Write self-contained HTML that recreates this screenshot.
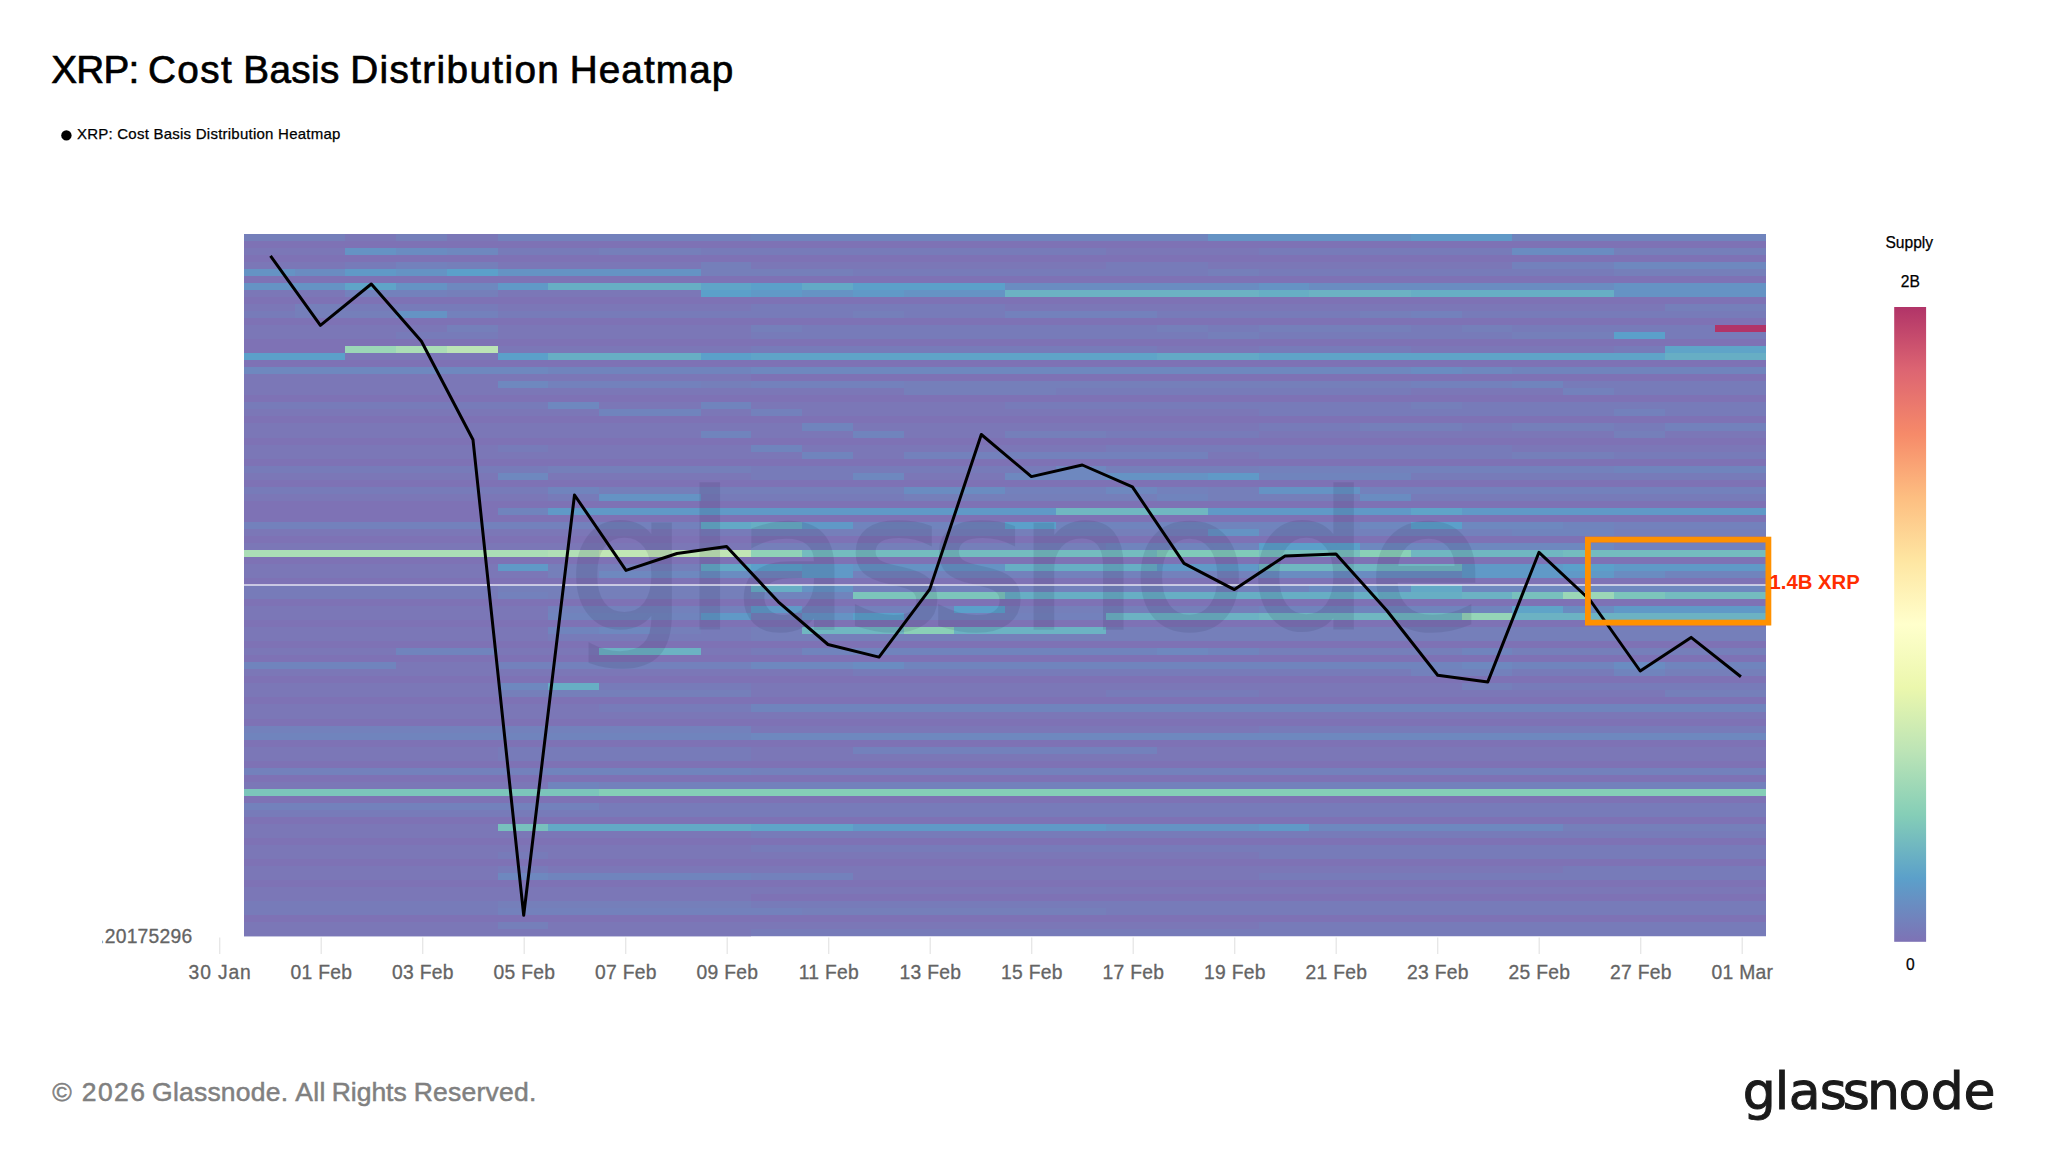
<!DOCTYPE html>
<html><head><meta charset="utf-8"><title>XRP: Cost Basis Distribution Heatmap</title>
<style>
html,body{margin:0;padding:0;background:#fff;}
body{width:2048px;height:1152px;overflow:hidden;position:relative;font-family:"Liberation Sans",sans-serif;}
svg{position:absolute;left:0;top:0;}
text{font-family:"Liberation Sans",sans-serif;}
</style></head><body>
<svg width="2048" height="1152" viewBox="0 0 2048 1152">
<defs><linearGradient id="cb" x1="0" y1="0" x2="0" y2="1"><stop offset="0%" stop-color="#b13468"/><stop offset="10%" stop-color="#dd6572"/><stop offset="20%" stop-color="#f68a69"/><stop offset="30%" stop-color="#fdbe81"/><stop offset="40%" stop-color="#fee6a2"/><stop offset="50%" stop-color="#ffffcc"/><stop offset="60%" stop-color="#ebf7ad"/><stop offset="70%" stop-color="#bce4b6"/><stop offset="80%" stop-color="#85ceb7"/><stop offset="90%" stop-color="#5ba0ca"/><stop offset="100%" stop-color="#7e72b5"/></linearGradient>
<clipPath id="hc"><rect x="244" y="233.8" width="1522" height="702.5"/></clipPath><clipPath id="yc"><rect x="102.3" y="920" width="100" height="30"/></clipPath></defs>
<text id="title" y="83.2" font-size="38.7" fill="#000" stroke="#000" stroke-width="0.7"><tspan x="51.13" letter-spacing="-0.707">XRP:</tspan> <tspan x="147.93" letter-spacing="1.459">Cost</tspan> <tspan x="243.33" letter-spacing="0.335">Basis</tspan> <tspan x="350.13" letter-spacing="1.383">Distribution</tspan> <tspan x="569.63" letter-spacing="1.112">Heatmap</tspan></text>
<circle cx="66.4" cy="135.4" r="5.2" fill="#000"/>
<text id="legend" x="76.9" y="139" font-size="15" letter-spacing="0.24" fill="#000" stroke="#000" stroke-width="0.25">XRP: Cost Basis Distribution Heatmap</text>
<g clip-path="url(#hc)" shape-rendering="crispEdges">
<rect x="244" y="233.8" width="1522" height="7.33" fill="#7084bd"/>
<rect x="244" y="233.8" width="101.47" height="7.33" fill="#757fba"/>
<rect x="345.47" y="233.8" width="50.73" height="7.33" fill="#7b77b7"/>
<rect x="396.2" y="233.8" width="50.73" height="7.33" fill="#757fba"/>
<rect x="446.93" y="233.8" width="50.73" height="7.33" fill="#7b77b7"/>
<rect x="497.67" y="233.8" width="253.67" height="7.33" fill="#7381bc"/>
<rect x="1207.93" y="233.8" width="202.93" height="7.33" fill="#6593c4"/>
<rect x="1410.87" y="233.8" width="101.47" height="7.33" fill="#6099c7"/>
<rect x="244" y="240.83" width="1522" height="7.33" fill="#7e72b5"/>
<rect x="244" y="247.85" width="1522" height="7.33" fill="#777bb9"/>
<rect x="244" y="247.85" width="101.47" height="7.33" fill="#7b77b7"/>
<rect x="345.47" y="247.85" width="50.73" height="7.33" fill="#6593c4"/>
<rect x="396.2" y="247.85" width="50.73" height="7.33" fill="#6a8cc1"/>
<rect x="446.93" y="247.85" width="50.73" height="7.33" fill="#6e88bf"/>
<rect x="599.13" y="247.85" width="101.47" height="7.33" fill="#757fba"/>
<rect x="1106.47" y="247.85" width="152.2" height="7.33" fill="#7b77b7"/>
<rect x="1512.33" y="247.85" width="101.47" height="7.33" fill="#6a8cc1"/>
<rect x="1613.8" y="247.85" width="152.2" height="7.33" fill="#757fba"/>
<rect x="244" y="254.88" width="1522" height="7.33" fill="#7e72b5"/>
<rect x="244" y="261.9" width="1522" height="7.33" fill="#7b77b7"/>
<rect x="345.47" y="261.9" width="50.73" height="7.33" fill="#777bb9"/>
<rect x="396.2" y="261.9" width="50.73" height="7.33" fill="#7381bc"/>
<rect x="446.93" y="261.9" width="50.73" height="7.33" fill="#757fba"/>
<rect x="700.6" y="261.9" width="50.73" height="7.33" fill="#757fba"/>
<rect x="1106.47" y="261.9" width="101.47" height="7.33" fill="#777bb9"/>
<rect x="1512.33" y="261.9" width="101.47" height="7.33" fill="#7381bc"/>
<rect x="1613.8" y="261.9" width="152.2" height="7.33" fill="#6e88bf"/>
<rect x="244" y="268.93" width="1522" height="7.33" fill="#777bb9"/>
<rect x="244" y="268.93" width="50.73" height="7.33" fill="#6593c4"/>
<rect x="294.73" y="268.93" width="50.73" height="7.33" fill="#6a8cc1"/>
<rect x="345.47" y="268.93" width="50.73" height="7.33" fill="#6099c7"/>
<rect x="396.2" y="268.93" width="50.73" height="7.33" fill="#6593c4"/>
<rect x="446.93" y="268.93" width="50.73" height="7.33" fill="#5ba0ca"/>
<rect x="497.67" y="268.93" width="202.93" height="7.33" fill="#6593c4"/>
<rect x="700.6" y="268.93" width="152.2" height="7.33" fill="#757fba"/>
<rect x="1207.93" y="268.93" width="50.73" height="7.33" fill="#757fba"/>
<rect x="1613.8" y="268.93" width="152.2" height="7.33" fill="#757fba"/>
<rect x="244" y="275.95" width="1522" height="7.33" fill="#7e72b5"/>
<rect x="244" y="282.98" width="1522" height="7.33" fill="#6a8cc1"/>
<rect x="244" y="282.98" width="101.47" height="7.33" fill="#6593c4"/>
<rect x="345.47" y="282.98" width="50.73" height="7.33" fill="#5fa4c8"/>
<rect x="396.2" y="282.98" width="50.73" height="7.33" fill="#6593c4"/>
<rect x="446.93" y="282.98" width="50.73" height="7.33" fill="#6e88bf"/>
<rect x="497.67" y="282.98" width="50.73" height="7.33" fill="#6099c7"/>
<rect x="548.4" y="282.98" width="152.2" height="7.33" fill="#67aec4"/>
<rect x="700.6" y="282.98" width="50.73" height="7.33" fill="#5fa4c8"/>
<rect x="751.33" y="282.98" width="50.73" height="7.33" fill="#5ba0ca"/>
<rect x="802.07" y="282.98" width="50.73" height="7.33" fill="#63a9c6"/>
<rect x="852.8" y="282.98" width="152.2" height="7.33" fill="#5ba0ca"/>
<rect x="1258.67" y="282.98" width="50.73" height="7.33" fill="#6593c4"/>
<rect x="1613.8" y="282.98" width="152.2" height="7.33" fill="#6593c4"/>
<rect x="244" y="290" width="1522" height="7.33" fill="#6cb2c3"/>
<rect x="244" y="290" width="101.47" height="7.33" fill="#7b77b7"/>
<rect x="345.47" y="290" width="101.47" height="7.33" fill="#7381bc"/>
<rect x="446.93" y="290" width="50.73" height="7.33" fill="#757fba"/>
<rect x="497.67" y="290" width="202.93" height="7.33" fill="#7b77b7"/>
<rect x="700.6" y="290" width="50.73" height="7.33" fill="#5ba0ca"/>
<rect x="751.33" y="290" width="50.73" height="7.33" fill="#6099c7"/>
<rect x="802.07" y="290" width="50.73" height="7.33" fill="#6593c4"/>
<rect x="852.8" y="290" width="50.73" height="7.33" fill="#6099c7"/>
<rect x="903.53" y="290" width="101.47" height="7.33" fill="#6593c4"/>
<rect x="1258.67" y="290" width="50.73" height="7.33" fill="#67aec4"/>
<rect x="1410.87" y="290" width="202.93" height="7.33" fill="#67aec4"/>
<rect x="1613.8" y="290" width="152.2" height="7.33" fill="#6593c4"/>
<rect x="244" y="297.03" width="1522" height="7.33" fill="#7e72b5"/>
<rect x="244" y="304.05" width="1522" height="7.33" fill="#7b77b7"/>
<rect x="294.73" y="304.05" width="50.73" height="7.33" fill="#757fba"/>
<rect x="345.47" y="304.05" width="152.2" height="7.33" fill="#777bb9"/>
<rect x="751.33" y="304.05" width="253.67" height="7.33" fill="#777bb9"/>
<rect x="1664.53" y="304.05" width="101.47" height="7.33" fill="#757fba"/>
<rect x="244" y="311.08" width="1522" height="7.33" fill="#777bb9"/>
<rect x="294.73" y="311.08" width="101.47" height="7.33" fill="#757fba"/>
<rect x="396.2" y="311.08" width="50.73" height="7.33" fill="#6593c4"/>
<rect x="446.93" y="311.08" width="50.73" height="7.33" fill="#7381bc"/>
<rect x="852.8" y="311.08" width="50.73" height="7.33" fill="#757fba"/>
<rect x="1005" y="311.08" width="152.2" height="7.33" fill="#7381bc"/>
<rect x="1360.13" y="311.08" width="50.73" height="7.33" fill="#757fba"/>
<rect x="1410.87" y="311.08" width="50.73" height="7.33" fill="#7381bc"/>
<rect x="244" y="318.1" width="1522" height="7.33" fill="#7e72b5"/>
<rect x="244" y="325.12" width="1522" height="7.33" fill="#777bb9"/>
<rect x="244" y="325.12" width="202.93" height="7.33" fill="#7b77b7"/>
<rect x="446.93" y="325.12" width="50.73" height="7.33" fill="#757fba"/>
<rect x="497.67" y="325.12" width="253.67" height="7.33" fill="#7b77b7"/>
<rect x="751.33" y="325.12" width="50.73" height="7.33" fill="#757fba"/>
<rect x="1157.2" y="325.12" width="50.73" height="7.33" fill="#757fba"/>
<rect x="1258.67" y="325.12" width="152.2" height="7.33" fill="#757fba"/>
<rect x="1461.6" y="325.12" width="50.73" height="7.33" fill="#757fba"/>
<rect x="1715.27" y="325.12" width="50.73" height="7.33" fill="#b13468"/>
<rect x="244" y="332.15" width="1522" height="7.33" fill="#777bb9"/>
<rect x="244" y="332.15" width="152.2" height="7.33" fill="#7b77b7"/>
<rect x="497.67" y="332.15" width="253.67" height="7.33" fill="#7b77b7"/>
<rect x="1207.93" y="332.15" width="50.73" height="7.33" fill="#757fba"/>
<rect x="1512.33" y="332.15" width="101.47" height="7.33" fill="#757fba"/>
<rect x="1613.8" y="332.15" width="50.73" height="7.33" fill="#5ba0ca"/>
<rect x="244" y="339.18" width="1522" height="7.33" fill="#7e72b5"/>
<rect x="244" y="346.2" width="1522" height="7.33" fill="#777bb9"/>
<rect x="244" y="346.2" width="101.47" height="7.33" fill="#7e72b5"/>
<rect x="345.47" y="346.2" width="50.73" height="7.33" fill="#9bd7b7"/>
<rect x="396.2" y="346.2" width="50.73" height="7.33" fill="#abddb6"/>
<rect x="446.93" y="346.2" width="50.73" height="7.33" fill="#bce4b6"/>
<rect x="497.67" y="346.2" width="253.67" height="7.33" fill="#7b77b7"/>
<rect x="1157.2" y="346.2" width="101.47" height="7.33" fill="#7b77b7"/>
<rect x="1410.87" y="346.2" width="202.93" height="7.33" fill="#7b77b7"/>
<rect x="1664.53" y="346.2" width="101.47" height="7.33" fill="#5fa4c8"/>
<rect x="244" y="353.23" width="1522" height="7.33" fill="#5fa4c8"/>
<rect x="244" y="353.23" width="101.47" height="7.33" fill="#5ba0ca"/>
<rect x="345.47" y="353.23" width="152.2" height="7.33" fill="#7b77b7"/>
<rect x="497.67" y="353.23" width="50.73" height="7.33" fill="#5ba0ca"/>
<rect x="548.4" y="353.23" width="152.2" height="7.33" fill="#67aec4"/>
<rect x="700.6" y="353.23" width="50.73" height="7.33" fill="#5ba0ca"/>
<rect x="1157.2" y="353.23" width="101.47" height="7.33" fill="#63a9c6"/>
<rect x="1664.53" y="353.23" width="101.47" height="7.33" fill="#67aec4"/>
<rect x="244" y="360.25" width="1522" height="7.33" fill="#7e72b5"/>
<rect x="244" y="367.27" width="1522" height="7.33" fill="#6e88bf"/>
<rect x="548.4" y="367.27" width="202.93" height="7.33" fill="#7084bd"/>
<rect x="1410.87" y="367.27" width="50.73" height="7.33" fill="#6a8cc1"/>
<rect x="1512.33" y="367.27" width="253.67" height="7.33" fill="#7084bd"/>
<rect x="244" y="374.3" width="1522" height="7.33" fill="#7e72b5"/>
<rect x="244" y="374.3" width="507.33" height="7.33" fill="#7b77b7"/>
<rect x="244" y="381.33" width="1522" height="7.33" fill="#757fba"/>
<rect x="244" y="381.33" width="253.67" height="7.33" fill="#7b77b7"/>
<rect x="497.67" y="381.33" width="50.73" height="7.33" fill="#6e88bf"/>
<rect x="548.4" y="381.33" width="152.2" height="7.33" fill="#7381bc"/>
<rect x="751.33" y="381.33" width="152.2" height="7.33" fill="#7381bc"/>
<rect x="1410.87" y="381.33" width="101.47" height="7.33" fill="#7381bc"/>
<rect x="1512.33" y="381.33" width="50.73" height="7.33" fill="#7084bd"/>
<rect x="1563.07" y="381.33" width="202.93" height="7.33" fill="#777bb9"/>
<rect x="244" y="388.35" width="1522" height="7.33" fill="#7b77b7"/>
<rect x="903.53" y="388.35" width="152.2" height="7.33" fill="#757fba"/>
<rect x="1055.73" y="388.35" width="355.13" height="7.33" fill="#777bb9"/>
<rect x="1563.07" y="388.35" width="50.73" height="7.33" fill="#7381bc"/>
<rect x="1613.8" y="388.35" width="152.2" height="7.33" fill="#777bb9"/>
<rect x="244" y="395.38" width="1522" height="7.33" fill="#7e72b5"/>
<rect x="244" y="402.4" width="1522" height="7.33" fill="#777bb9"/>
<rect x="548.4" y="402.4" width="50.73" height="7.33" fill="#6e88bf"/>
<rect x="599.13" y="402.4" width="101.47" height="7.33" fill="#7b77b7"/>
<rect x="700.6" y="402.4" width="50.73" height="7.33" fill="#7084bd"/>
<rect x="751.33" y="402.4" width="253.67" height="7.33" fill="#7b77b7"/>
<rect x="1410.87" y="402.4" width="50.73" height="7.33" fill="#757fba"/>
<rect x="244" y="409.43" width="1522" height="7.33" fill="#7b77b7"/>
<rect x="599.13" y="409.43" width="101.47" height="7.33" fill="#7084bd"/>
<rect x="751.33" y="409.43" width="50.73" height="7.33" fill="#7381bc"/>
<rect x="1258.67" y="409.43" width="355.13" height="7.33" fill="#777bb9"/>
<rect x="1613.8" y="409.43" width="50.73" height="7.33" fill="#7381bc"/>
<rect x="1664.53" y="409.43" width="101.47" height="7.33" fill="#777bb9"/>
<rect x="244" y="416.45" width="1522" height="7.33" fill="#7e72b5"/>
<rect x="244" y="423.48" width="1522" height="7.33" fill="#7b77b7"/>
<rect x="802.07" y="423.48" width="50.73" height="7.33" fill="#7084bd"/>
<rect x="1258.67" y="423.48" width="101.47" height="7.33" fill="#777bb9"/>
<rect x="1360.13" y="423.48" width="101.47" height="7.33" fill="#757fba"/>
<rect x="1461.6" y="423.48" width="50.73" height="7.33" fill="#777bb9"/>
<rect x="1512.33" y="423.48" width="101.47" height="7.33" fill="#757fba"/>
<rect x="1613.8" y="423.48" width="50.73" height="7.33" fill="#777bb9"/>
<rect x="1664.53" y="423.48" width="101.47" height="7.33" fill="#7381bc"/>
<rect x="244" y="430.5" width="1522" height="7.33" fill="#7b77b7"/>
<rect x="700.6" y="430.5" width="50.73" height="7.33" fill="#7084bd"/>
<rect x="852.8" y="430.5" width="50.73" height="7.33" fill="#7084bd"/>
<rect x="1005" y="430.5" width="101.47" height="7.33" fill="#757fba"/>
<rect x="1106.47" y="430.5" width="152.2" height="7.33" fill="#777bb9"/>
<rect x="1613.8" y="430.5" width="50.73" height="7.33" fill="#757fba"/>
<rect x="244" y="437.53" width="1522" height="7.33" fill="#7e72b5"/>
<rect x="244" y="444.55" width="1522" height="7.33" fill="#7b77b7"/>
<rect x="497.67" y="444.55" width="50.73" height="7.33" fill="#777bb9"/>
<rect x="751.33" y="444.55" width="50.73" height="7.33" fill="#7084bd"/>
<rect x="1106.47" y="444.55" width="405.87" height="7.33" fill="#777bb9"/>
<rect x="244" y="451.58" width="1522" height="7.33" fill="#7b77b7"/>
<rect x="802.07" y="451.58" width="50.73" height="7.33" fill="#7084bd"/>
<rect x="903.53" y="451.58" width="304.4" height="7.33" fill="#7381bc"/>
<rect x="1258.67" y="451.58" width="253.67" height="7.33" fill="#777bb9"/>
<rect x="1512.33" y="451.58" width="101.47" height="7.33" fill="#757fba"/>
<rect x="1613.8" y="451.58" width="152.2" height="7.33" fill="#777bb9"/>
<rect x="244" y="458.6" width="1522" height="7.33" fill="#7e72b5"/>
<rect x="244" y="465.62" width="1522" height="7.33" fill="#777bb9"/>
<rect x="548.4" y="465.62" width="202.93" height="7.33" fill="#757fba"/>
<rect x="1055.73" y="465.62" width="50.73" height="7.33" fill="#6e88bf"/>
<rect x="1106.47" y="465.62" width="152.2" height="7.33" fill="#757fba"/>
<rect x="1258.67" y="465.62" width="355.13" height="7.33" fill="#7381bc"/>
<rect x="1613.8" y="465.62" width="152.2" height="7.33" fill="#7084bd"/>
<rect x="244" y="472.65" width="1522" height="7.33" fill="#7b77b7"/>
<rect x="497.67" y="472.65" width="50.73" height="7.33" fill="#6e88bf"/>
<rect x="751.33" y="472.65" width="101.47" height="7.33" fill="#777bb9"/>
<rect x="852.8" y="472.65" width="50.73" height="7.33" fill="#6e88bf"/>
<rect x="1005" y="472.65" width="101.47" height="7.33" fill="#6e88bf"/>
<rect x="1106.47" y="472.65" width="101.47" height="7.33" fill="#6593c4"/>
<rect x="1207.93" y="472.65" width="50.73" height="7.33" fill="#6099c7"/>
<rect x="1258.67" y="472.65" width="152.2" height="7.33" fill="#7084bd"/>
<rect x="1410.87" y="472.65" width="355.13" height="7.33" fill="#777bb9"/>
<rect x="244" y="479.68" width="1522" height="7.33" fill="#7e72b5"/>
<rect x="244" y="486.7" width="1522" height="7.33" fill="#7381bc"/>
<rect x="244" y="486.7" width="304.4" height="7.33" fill="#777bb9"/>
<rect x="548.4" y="486.7" width="50.73" height="7.33" fill="#7084bd"/>
<rect x="599.13" y="486.7" width="304.4" height="7.33" fill="#757fba"/>
<rect x="903.53" y="486.7" width="101.47" height="7.33" fill="#6a8cc1"/>
<rect x="1106.47" y="486.7" width="50.73" height="7.33" fill="#6e88bf"/>
<rect x="1207.93" y="486.7" width="50.73" height="7.33" fill="#757fba"/>
<rect x="1258.67" y="486.7" width="101.47" height="7.33" fill="#6593c4"/>
<rect x="244" y="493.73" width="1522" height="7.33" fill="#777bb9"/>
<rect x="244" y="493.73" width="304.4" height="7.33" fill="#7b77b7"/>
<rect x="599.13" y="493.73" width="101.47" height="7.33" fill="#6593c4"/>
<rect x="903.53" y="493.73" width="253.67" height="7.33" fill="#757fba"/>
<rect x="1157.2" y="493.73" width="50.73" height="7.33" fill="#7084bd"/>
<rect x="1207.93" y="493.73" width="152.2" height="7.33" fill="#757fba"/>
<rect x="1360.13" y="493.73" width="50.73" height="7.33" fill="#6a8cc1"/>
<rect x="244" y="500.75" width="1522" height="7.33" fill="#7e72b5"/>
<rect x="244" y="507.78" width="1522" height="7.33" fill="#6099c7"/>
<rect x="244" y="507.78" width="253.67" height="7.33" fill="#7e72b5"/>
<rect x="497.67" y="507.78" width="50.73" height="7.33" fill="#7084bd"/>
<rect x="1055.73" y="507.78" width="152.2" height="7.33" fill="#70b7c1"/>
<rect x="1410.87" y="507.78" width="50.73" height="7.33" fill="#5fa4c8"/>
<rect x="244" y="514.8" width="1522" height="7.33" fill="#7e72b5"/>
<rect x="244" y="521.83" width="1522" height="7.33" fill="#7381bc"/>
<rect x="700.6" y="521.83" width="50.73" height="7.33" fill="#63a9c6"/>
<rect x="751.33" y="521.83" width="50.73" height="7.33" fill="#67aec4"/>
<rect x="802.07" y="521.83" width="50.73" height="7.33" fill="#6099c7"/>
<rect x="852.8" y="521.83" width="152.2" height="7.33" fill="#7084bd"/>
<rect x="1005" y="521.83" width="50.73" height="7.33" fill="#5ba0ca"/>
<rect x="1055.73" y="521.83" width="304.4" height="7.33" fill="#7084bd"/>
<rect x="1360.13" y="521.83" width="50.73" height="7.33" fill="#6e88bf"/>
<rect x="1410.87" y="521.83" width="50.73" height="7.33" fill="#5ba0ca"/>
<rect x="1461.6" y="521.83" width="101.47" height="7.33" fill="#6e88bf"/>
<rect x="1563.07" y="521.83" width="50.73" height="7.33" fill="#7084bd"/>
<rect x="244" y="528.85" width="1522" height="7.33" fill="#757fba"/>
<rect x="244" y="528.85" width="456.6" height="7.33" fill="#7b77b7"/>
<rect x="700.6" y="528.85" width="50.73" height="7.33" fill="#777bb9"/>
<rect x="1207.93" y="528.85" width="50.73" height="7.33" fill="#6593c4"/>
<rect x="1258.67" y="528.85" width="253.67" height="7.33" fill="#7381bc"/>
<rect x="1512.33" y="528.85" width="101.47" height="7.33" fill="#7084bd"/>
<rect x="244" y="535.88" width="1522" height="7.33" fill="#7e72b5"/>
<rect x="244" y="542.9" width="1522" height="7.33" fill="#7b77b7"/>
<rect x="751.33" y="542.9" width="355.13" height="7.33" fill="#757fba"/>
<rect x="1106.47" y="542.9" width="152.2" height="7.33" fill="#7084bd"/>
<rect x="1258.67" y="542.9" width="101.47" height="7.33" fill="#5ba0ca"/>
<rect x="1360.13" y="542.9" width="253.67" height="7.33" fill="#6e88bf"/>
<rect x="1613.8" y="542.9" width="152.2" height="7.33" fill="#7381bc"/>
<rect x="244" y="549.92" width="1522" height="7.33" fill="#74bcbf"/>
<rect x="244" y="549.92" width="304.4" height="7.33" fill="#abddb6"/>
<rect x="548.4" y="549.92" width="50.73" height="7.33" fill="#b1dfb6"/>
<rect x="599.13" y="549.92" width="152.2" height="7.33" fill="#c1e6b5"/>
<rect x="751.33" y="549.92" width="50.73" height="7.33" fill="#90d3b7"/>
<rect x="1157.2" y="549.92" width="101.47" height="7.33" fill="#80cab9"/>
<rect x="1258.67" y="549.92" width="101.47" height="7.33" fill="#78c0bd"/>
<rect x="1360.13" y="549.92" width="50.73" height="7.33" fill="#8ad0b7"/>
<rect x="1410.87" y="549.92" width="152.2" height="7.33" fill="#70b7c1"/>
<rect x="244" y="556.95" width="1522" height="7.33" fill="#7e72b5"/>
<rect x="244" y="563.98" width="1522" height="7.33" fill="#6099c7"/>
<rect x="244" y="563.98" width="253.67" height="7.33" fill="#7b77b7"/>
<rect x="548.4" y="563.98" width="152.2" height="7.33" fill="#757fba"/>
<rect x="700.6" y="563.98" width="50.73" height="7.33" fill="#63a9c6"/>
<rect x="751.33" y="563.98" width="50.73" height="7.33" fill="#5ba0ca"/>
<rect x="852.8" y="563.98" width="152.2" height="7.33" fill="#6593c4"/>
<rect x="1005" y="563.98" width="152.2" height="7.33" fill="#67aec4"/>
<rect x="1258.67" y="563.98" width="202.93" height="7.33" fill="#70b7c1"/>
<rect x="1563.07" y="563.98" width="50.73" height="7.33" fill="#5ba0ca"/>
<rect x="244" y="571" width="1522" height="7.33" fill="#7381bc"/>
<rect x="244" y="571" width="304.4" height="7.33" fill="#7b77b7"/>
<rect x="548.4" y="571" width="50.73" height="7.33" fill="#757fba"/>
<rect x="599.13" y="571" width="101.47" height="7.33" fill="#6e88bf"/>
<rect x="700.6" y="571" width="50.73" height="7.33" fill="#6a8cc1"/>
<rect x="751.33" y="571" width="50.73" height="7.33" fill="#7084bd"/>
<rect x="802.07" y="571" width="50.73" height="7.33" fill="#6099c7"/>
<rect x="1258.67" y="571" width="202.93" height="7.33" fill="#6a8cc1"/>
<rect x="1461.6" y="571" width="152.2" height="7.33" fill="#6099c7"/>
<rect x="1613.8" y="571" width="50.73" height="7.33" fill="#6a8cc1"/>
<rect x="1664.53" y="571" width="101.47" height="7.33" fill="#7084bd"/>
<rect x="244" y="578.03" width="1522" height="7.33" fill="#7e72b5"/>
<rect x="244" y="585.05" width="1522" height="7.33" fill="#7381bc"/>
<rect x="244" y="585.05" width="253.67" height="7.33" fill="#777bb9"/>
<rect x="497.67" y="585.05" width="253.67" height="7.33" fill="#757fba"/>
<rect x="751.33" y="585.05" width="50.73" height="7.33" fill="#67aec4"/>
<rect x="802.07" y="585.05" width="50.73" height="7.33" fill="#6593c4"/>
<rect x="1258.67" y="585.05" width="50.73" height="7.33" fill="#7084bd"/>
<rect x="1309.4" y="585.05" width="101.47" height="7.33" fill="#6a8cc1"/>
<rect x="1410.87" y="585.05" width="50.73" height="7.33" fill="#63a9c6"/>
<rect x="1461.6" y="585.05" width="304.4" height="7.33" fill="#6e88bf"/>
<rect x="244" y="592.08" width="1522" height="7.33" fill="#67aec4"/>
<rect x="244" y="592.08" width="253.67" height="7.33" fill="#777bb9"/>
<rect x="497.67" y="592.08" width="50.73" height="7.33" fill="#7381bc"/>
<rect x="548.4" y="592.08" width="202.93" height="7.33" fill="#757fba"/>
<rect x="751.33" y="592.08" width="101.47" height="7.33" fill="#7084bd"/>
<rect x="852.8" y="592.08" width="152.2" height="7.33" fill="#7cc5bb"/>
<rect x="1461.6" y="592.08" width="50.73" height="7.33" fill="#6cb2c3"/>
<rect x="1512.33" y="592.08" width="50.73" height="7.33" fill="#78c0bd"/>
<rect x="1563.07" y="592.08" width="50.73" height="7.33" fill="#9bd7b7"/>
<rect x="1613.8" y="592.08" width="50.73" height="7.33" fill="#7cc5bb"/>
<rect x="1664.53" y="592.08" width="101.47" height="7.33" fill="#74bcbf"/>
<rect x="244" y="599.1" width="1522" height="7.33" fill="#7e72b5"/>
<rect x="244" y="606.12" width="1522" height="7.33" fill="#7381bc"/>
<rect x="244" y="606.12" width="304.4" height="7.33" fill="#7b77b7"/>
<rect x="751.33" y="606.12" width="50.73" height="7.33" fill="#6099c7"/>
<rect x="954.27" y="606.12" width="50.73" height="7.33" fill="#5ba0ca"/>
<rect x="1005" y="606.12" width="253.67" height="7.33" fill="#757fba"/>
<rect x="1258.67" y="606.12" width="253.67" height="7.33" fill="#7084bd"/>
<rect x="1512.33" y="606.12" width="50.73" height="7.33" fill="#5fa4c8"/>
<rect x="1563.07" y="606.12" width="50.73" height="7.33" fill="#6a8cc1"/>
<rect x="1613.8" y="606.12" width="152.2" height="7.33" fill="#6099c7"/>
<rect x="244" y="613.15" width="1522" height="7.33" fill="#6cb2c3"/>
<rect x="244" y="613.15" width="304.4" height="7.33" fill="#7b77b7"/>
<rect x="548.4" y="613.15" width="152.2" height="7.33" fill="#7084bd"/>
<rect x="700.6" y="613.15" width="50.73" height="7.33" fill="#6099c7"/>
<rect x="751.33" y="613.15" width="50.73" height="7.33" fill="#757fba"/>
<rect x="802.07" y="613.15" width="50.73" height="7.33" fill="#6593c4"/>
<rect x="852.8" y="613.15" width="50.73" height="7.33" fill="#5ba0ca"/>
<rect x="903.53" y="613.15" width="202.93" height="7.33" fill="#7381bc"/>
<rect x="1258.67" y="613.15" width="202.93" height="7.33" fill="#70b7c1"/>
<rect x="1461.6" y="613.15" width="50.73" height="7.33" fill="#95d5b7"/>
<rect x="244" y="620.17" width="1522" height="7.33" fill="#7e72b5"/>
<rect x="244" y="627.2" width="1522" height="7.33" fill="#757fba"/>
<rect x="244" y="627.2" width="304.4" height="7.33" fill="#7b77b7"/>
<rect x="548.4" y="627.2" width="50.73" height="7.33" fill="#7084bd"/>
<rect x="599.13" y="627.2" width="50.73" height="7.33" fill="#6e88bf"/>
<rect x="700.6" y="627.2" width="50.73" height="7.33" fill="#777bb9"/>
<rect x="802.07" y="627.2" width="101.47" height="7.33" fill="#70b7c1"/>
<rect x="903.53" y="627.2" width="50.73" height="7.33" fill="#8ad0b7"/>
<rect x="954.27" y="627.2" width="152.2" height="7.33" fill="#6cb2c3"/>
<rect x="244" y="634.23" width="1522" height="7.33" fill="#757fba"/>
<rect x="244" y="634.23" width="304.4" height="7.33" fill="#7b77b7"/>
<rect x="548.4" y="634.23" width="202.93" height="7.33" fill="#777bb9"/>
<rect x="244" y="641.25" width="1522" height="7.33" fill="#7e72b5"/>
<rect x="244" y="648.28" width="1522" height="7.33" fill="#7084bd"/>
<rect x="244" y="648.28" width="152.2" height="7.33" fill="#7b77b7"/>
<rect x="497.67" y="648.28" width="101.47" height="7.33" fill="#7b77b7"/>
<rect x="599.13" y="648.28" width="101.47" height="7.33" fill="#6cb2c3"/>
<rect x="700.6" y="648.28" width="50.73" height="7.33" fill="#7b77b7"/>
<rect x="751.33" y="648.28" width="50.73" height="7.33" fill="#777bb9"/>
<rect x="1157.2" y="648.28" width="50.73" height="7.33" fill="#6e88bf"/>
<rect x="1258.67" y="648.28" width="202.93" height="7.33" fill="#757fba"/>
<rect x="1512.33" y="648.28" width="253.67" height="7.33" fill="#757fba"/>
<rect x="244" y="655.3" width="1522" height="7.33" fill="#7e72b5"/>
<rect x="244" y="662.33" width="1522" height="7.33" fill="#7084bd"/>
<rect x="396.2" y="662.33" width="101.47" height="7.33" fill="#7b77b7"/>
<rect x="497.67" y="662.33" width="253.67" height="7.33" fill="#7381bc"/>
<rect x="751.33" y="662.33" width="101.47" height="7.33" fill="#6e88bf"/>
<rect x="852.8" y="662.33" width="50.73" height="7.33" fill="#6a8cc1"/>
<rect x="1461.6" y="662.33" width="50.73" height="7.33" fill="#6e88bf"/>
<rect x="1613.8" y="662.33" width="50.73" height="7.33" fill="#6a8cc1"/>
<rect x="244" y="669.35" width="1522" height="7.33" fill="#777bb9"/>
<rect x="244" y="669.35" width="608.8" height="7.33" fill="#7b77b7"/>
<rect x="1410.87" y="669.35" width="101.47" height="7.33" fill="#7381bc"/>
<rect x="1613.8" y="669.35" width="50.73" height="7.33" fill="#7084bd"/>
<rect x="1664.53" y="669.35" width="101.47" height="7.33" fill="#757fba"/>
<rect x="244" y="676.38" width="1522" height="7.33" fill="#7e72b5"/>
<rect x="244" y="683.4" width="1522" height="7.33" fill="#7b77b7"/>
<rect x="497.67" y="683.4" width="50.73" height="7.33" fill="#6e88bf"/>
<rect x="548.4" y="683.4" width="50.73" height="7.33" fill="#67aec4"/>
<rect x="599.13" y="683.4" width="152.2" height="7.33" fill="#777bb9"/>
<rect x="1461.6" y="683.4" width="50.73" height="7.33" fill="#757fba"/>
<rect x="1512.33" y="683.4" width="253.67" height="7.33" fill="#777bb9"/>
<rect x="244" y="690.42" width="1522" height="7.33" fill="#7b77b7"/>
<rect x="497.67" y="690.42" width="253.67" height="7.33" fill="#757fba"/>
<rect x="1106.47" y="690.42" width="152.2" height="7.33" fill="#777bb9"/>
<rect x="1664.53" y="690.42" width="101.47" height="7.33" fill="#757fba"/>
<rect x="244" y="697.45" width="1522" height="7.33" fill="#7e72b5"/>
<rect x="244" y="704.48" width="1522" height="7.33" fill="#7084bd"/>
<rect x="244" y="704.48" width="355.13" height="7.33" fill="#7b77b7"/>
<rect x="599.13" y="704.48" width="152.2" height="7.33" fill="#777bb9"/>
<rect x="244" y="711.5" width="1522" height="7.33" fill="#7b77b7"/>
<rect x="244" y="718.53" width="1522" height="7.33" fill="#7e72b5"/>
<rect x="244" y="725.55" width="1522" height="7.33" fill="#7381bc"/>
<rect x="751.33" y="725.55" width="507.33" height="7.33" fill="#7b77b7"/>
<rect x="1258.67" y="725.55" width="507.33" height="7.33" fill="#777bb9"/>
<rect x="244" y="732.58" width="1522" height="7.33" fill="#6e88bf"/>
<rect x="244" y="732.58" width="507.33" height="7.33" fill="#7084bd"/>
<rect x="244" y="739.6" width="1522" height="7.33" fill="#7e72b5"/>
<rect x="244" y="746.62" width="1522" height="7.33" fill="#7b77b7"/>
<rect x="497.67" y="746.62" width="253.67" height="7.33" fill="#777bb9"/>
<rect x="852.8" y="746.62" width="304.4" height="7.33" fill="#7381bc"/>
<rect x="244" y="753.65" width="1522" height="7.33" fill="#7b77b7"/>
<rect x="497.67" y="753.65" width="253.67" height="7.33" fill="#777bb9"/>
<rect x="244" y="760.67" width="1522" height="7.33" fill="#7e72b5"/>
<rect x="244" y="767.7" width="1522" height="7.33" fill="#7381bc"/>
<rect x="548.4" y="767.7" width="202.93" height="7.33" fill="#7084bd"/>
<rect x="244" y="774.73" width="1522" height="7.33" fill="#7e72b5"/>
<rect x="244" y="781.75" width="1522" height="7.33" fill="#7381bc"/>
<rect x="244" y="781.75" width="304.4" height="7.33" fill="#7b77b7"/>
<rect x="548.4" y="781.75" width="50.73" height="7.33" fill="#7084bd"/>
<rect x="244" y="788.78" width="1522" height="7.33" fill="#85ceb7"/>
<rect x="244" y="788.78" width="355.13" height="7.33" fill="#7cc5bb"/>
<rect x="244" y="795.8" width="1522" height="7.33" fill="#7e72b5"/>
<rect x="244" y="802.83" width="1522" height="7.33" fill="#777bb9"/>
<rect x="244" y="802.83" width="355.13" height="7.33" fill="#7381bc"/>
<rect x="244" y="809.85" width="1522" height="7.33" fill="#777bb9"/>
<rect x="244" y="816.88" width="1522" height="7.33" fill="#7e72b5"/>
<rect x="244" y="823.9" width="1522" height="7.33" fill="#6099c7"/>
<rect x="244" y="823.9" width="253.67" height="7.33" fill="#7b77b7"/>
<rect x="497.67" y="823.9" width="50.73" height="7.33" fill="#78c0bd"/>
<rect x="548.4" y="823.9" width="202.93" height="7.33" fill="#63a9c6"/>
<rect x="751.33" y="823.9" width="101.47" height="7.33" fill="#5fa4c8"/>
<rect x="1106.47" y="823.9" width="152.2" height="7.33" fill="#6593c4"/>
<rect x="1309.4" y="823.9" width="253.67" height="7.33" fill="#6e88bf"/>
<rect x="1563.07" y="823.9" width="202.93" height="7.33" fill="#757fba"/>
<rect x="244" y="830.92" width="1522" height="7.33" fill="#777bb9"/>
<rect x="244" y="830.92" width="507.33" height="7.33" fill="#7b77b7"/>
<rect x="244" y="837.95" width="1522" height="7.33" fill="#7e72b5"/>
<rect x="244" y="844.98" width="1522" height="7.33" fill="#777bb9"/>
<rect x="244" y="844.98" width="507.33" height="7.33" fill="#7b77b7"/>
<rect x="244" y="852" width="1522" height="7.33" fill="#7b77b7"/>
<rect x="497.67" y="852" width="50.73" height="7.33" fill="#777bb9"/>
<rect x="1258.67" y="852" width="507.33" height="7.33" fill="#777bb9"/>
<rect x="244" y="859.03" width="1522" height="7.33" fill="#7e72b5"/>
<rect x="244" y="866.05" width="1522" height="7.33" fill="#7b77b7"/>
<rect x="497.67" y="866.05" width="50.73" height="7.33" fill="#777bb9"/>
<rect x="1563.07" y="866.05" width="202.93" height="7.33" fill="#777bb9"/>
<rect x="244" y="873.08" width="1522" height="7.33" fill="#7b77b7"/>
<rect x="497.67" y="873.08" width="50.73" height="7.33" fill="#6e88bf"/>
<rect x="548.4" y="873.08" width="202.93" height="7.33" fill="#7084bd"/>
<rect x="751.33" y="873.08" width="101.47" height="7.33" fill="#7381bc"/>
<rect x="1258.67" y="873.08" width="507.33" height="7.33" fill="#777bb9"/>
<rect x="244" y="880.1" width="1522" height="7.33" fill="#7e72b5"/>
<rect x="244" y="887.12" width="1522" height="7.33" fill="#7b77b7"/>
<rect x="244" y="894.15" width="1522" height="7.33" fill="#7e72b5"/>
<rect x="244" y="894.15" width="507.33" height="7.33" fill="#7b77b7"/>
<rect x="244" y="901.17" width="1522" height="7.33" fill="#777bb9"/>
<rect x="497.67" y="901.17" width="253.67" height="7.33" fill="#757fba"/>
<rect x="244" y="908.2" width="1522" height="7.33" fill="#777bb9"/>
<rect x="497.67" y="908.2" width="304.4" height="7.33" fill="#7381bc"/>
<rect x="802.07" y="908.2" width="304.4" height="7.33" fill="#757fba"/>
<rect x="244" y="915.23" width="1522" height="7.33" fill="#7e72b5"/>
<rect x="244" y="922.25" width="1522" height="7.33" fill="#7b77b7"/>
<rect x="497.67" y="922.25" width="50.73" height="7.33" fill="#757fba"/>
<rect x="1258.67" y="922.25" width="507.33" height="7.33" fill="#777bb9"/>
<rect x="244" y="929.28" width="1522" height="7.33" fill="#777bb9"/>
<rect x="244" y="929.28" width="507.33" height="7.33" fill="#7b77b7"/>
</g>
<g opacity="0.1" clip-path="url(#hc)"><text id="wm" x="567.6 683.4 734.2 846.5 929.7 1018.2 1132.1 1249.5 1367.6" y="627.5" font-size="188.6" style="font-family:'DejaVu Sans','Liberation Sans',sans-serif" fill="#1c1c40" stroke="#1c1c40" stroke-width="3.6">glassnode</text></g>
<rect x="244" y="584.3" width="1522" height="1.4" fill="#fff" fill-opacity="0.85"/>
<polyline points="270.5,255.8 320.4,325.4 371.3,284 421.4,341.2 473,439.8 523.7,915.3 574.5,495 626,570.4 677,553.5 726.6,546.4 778.3,601.8 828,644.5 879,657.1 929.7,589.4 981.3,434.5 1031.4,476.6 1082.3,465 1132.4,486.9 1184,563.4 1234.4,589.6 1285,556 1336,553.9 1386.8,610.5 1437.7,675.3 1487.8,681.9 1539,552.3 1590,600 1640.2,671 1691.1,637.4 1740.9,676.8" fill="none" stroke="#000" stroke-width="3" stroke-linejoin="round"/>
<rect x="1587.9" y="539.6" width="180.5" height="83" fill="none" stroke="#ff9100" stroke-width="5.8"/>
<text id="ann" x="1769.6" y="588.8" font-size="20.3" font-weight="bold" fill="#ff2d00">1.4B XRP</text>
<g fill="#646464" font-size="19.3" stroke-width="0.3" letter-spacing="0.3">
<line x1="219.7" y1="937.5" x2="219.7" y2="954" stroke="#e6e6e6" stroke-width="1.3"/><line x1="321.2" y1="937.5" x2="321.2" y2="954" stroke="#e6e6e6" stroke-width="1.3"/><line x1="422.7" y1="937.5" x2="422.7" y2="954" stroke="#e6e6e6" stroke-width="1.3"/><line x1="524.2" y1="937.5" x2="524.2" y2="954" stroke="#e6e6e6" stroke-width="1.3"/><line x1="625.7" y1="937.5" x2="625.7" y2="954" stroke="#e6e6e6" stroke-width="1.3"/><line x1="727.2" y1="937.5" x2="727.2" y2="954" stroke="#e6e6e6" stroke-width="1.3"/><line x1="828.7" y1="937.5" x2="828.7" y2="954" stroke="#e6e6e6" stroke-width="1.3"/><line x1="930.2" y1="937.5" x2="930.2" y2="954" stroke="#e6e6e6" stroke-width="1.3"/><line x1="1031.7" y1="937.5" x2="1031.7" y2="954" stroke="#e6e6e6" stroke-width="1.3"/><line x1="1133.2" y1="937.5" x2="1133.2" y2="954" stroke="#e6e6e6" stroke-width="1.3"/><line x1="1234.7" y1="937.5" x2="1234.7" y2="954" stroke="#e6e6e6" stroke-width="1.3"/><line x1="1336.2" y1="937.5" x2="1336.2" y2="954" stroke="#e6e6e6" stroke-width="1.3"/><line x1="1437.7" y1="937.5" x2="1437.7" y2="954" stroke="#e6e6e6" stroke-width="1.3"/><line x1="1539.2" y1="937.5" x2="1539.2" y2="954" stroke="#e6e6e6" stroke-width="1.3"/><line x1="1640.7" y1="937.5" x2="1640.7" y2="954" stroke="#e6e6e6" stroke-width="1.3"/><line x1="1742.2" y1="937.5" x2="1742.2" y2="954" stroke="#e6e6e6" stroke-width="1.3"/>
<text x="220.1" y="979" letter-spacing="0.85" text-anchor="middle" stroke="#646464">30 Jan</text><text x="321.35" y="979" text-anchor="middle" stroke="#646464">01 Feb</text><text x="422.85" y="979" text-anchor="middle" stroke="#646464">03 Feb</text><text x="524.35" y="979" text-anchor="middle" stroke="#646464">05 Feb</text><text x="625.85" y="979" text-anchor="middle" stroke="#646464">07 Feb</text><text x="727.35" y="979" text-anchor="middle" stroke="#646464">09 Feb</text><text x="828.85" y="979" text-anchor="middle" stroke="#646464">11 Feb</text><text x="930.35" y="979" text-anchor="middle" stroke="#646464">13 Feb</text><text x="1031.85" y="979" text-anchor="middle" stroke="#646464">15 Feb</text><text x="1133.35" y="979" text-anchor="middle" stroke="#646464">17 Feb</text><text x="1234.85" y="979" text-anchor="middle" stroke="#646464">19 Feb</text><text x="1336.35" y="979" text-anchor="middle" stroke="#646464">21 Feb</text><text x="1437.85" y="979" text-anchor="middle" stroke="#646464">23 Feb</text><text x="1539.35" y="979" text-anchor="middle" stroke="#646464">25 Feb</text><text x="1640.85" y="979" text-anchor="middle" stroke="#646464">27 Feb</text><text x="1742.35" y="979" text-anchor="middle" stroke="#646464">01 Mar</text>
<text id="ylab" x="192.5" y="942.8" letter-spacing="0.25" text-anchor="end" stroke="#646464" clip-path="url(#yc)">.20175296</text>
</g>
<rect x="1894.2" y="307" width="31.9" height="634.8" fill="url(#cb)"/>
<g font-size="15.6" fill="#000" stroke="#000" stroke-width="0.25" text-anchor="middle">
<text x="1909.3" y="248">Supply</text>
<text x="1910.3" y="286.7">2B</text>
<text x="1910.3" y="970">0</text>
</g>
<text id="foot" y="1100.6" font-size="26.5" fill="#808080" stroke="#808080" stroke-width="0.5"><tspan x="52.3">©</tspan> <tspan x="81.87" letter-spacing="1.382">2026</tspan> <tspan x="152.07" letter-spacing="0.211">Glassnode.</tspan> <tspan x="295.15" letter-spacing="0.337">All</tspan> <tspan x="331.78" letter-spacing="-0.046">Rights</tspan> <tspan x="413.63" letter-spacing="0.24">Reserved.</tspan></text>
<text id="logo" x="1742.8 1774.8 1788.8 1819.7 1842.7 1867.1 1898.5 1930.8 1963.4" y="1108.5" font-size="52" style="font-family:'DejaVu Sans','Liberation Sans',sans-serif" fill="#1a1a1a" stroke="#1a1a1a" stroke-width="1">glassnode</text>
</svg>
</body></html>
